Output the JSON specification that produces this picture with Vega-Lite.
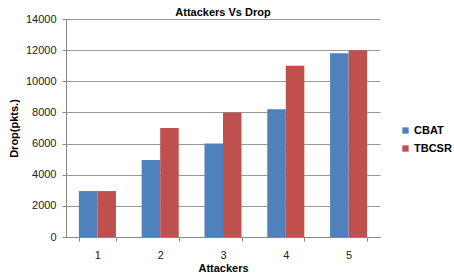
{
  "$schema": "https://vega.github.io/schema/vega-lite/v6.json",
  "autosize": "none",
  "width": 314,
  "height": 218,
  "padding": {"left": 66, "top": 19, "right": 74, "bottom": 41},
  "background": "white",
  "title": {"text": "Attackers Vs Drop", "font": "Liberation Sans", "fontSize": 11, "fontWeight": "bold", "color": "black", "offset": -5},
  "data": {"values": [
    {"attackers": "1", "series": "CBAT", "drop": 2950},
    {"attackers": "1", "series": "TBCSR", "drop": 2950},
    {"attackers": "2", "series": "CBAT", "drop": 4950},
    {"attackers": "2", "series": "TBCSR", "drop": 7000},
    {"attackers": "3", "series": "CBAT", "drop": 6000},
    {"attackers": "3", "series": "TBCSR", "drop": 8000},
    {"attackers": "4", "series": "CBAT", "drop": 8200},
    {"attackers": "4", "series": "TBCSR", "drop": 11000},
    {"attackers": "5", "series": "CBAT", "drop": 11800},
    {"attackers": "5", "series": "TBCSR", "drop": 12000}
  ]},
  "mark": {"type": "bar"},
  "encoding": {
    "x": {"field": "attackers", "type": "nominal", "title": "Attackers",
      "scale": {"paddingInner": 0.41, "paddingOuter": 0.205},
      "axis": {"labelAngle": 0, "tickBand": "extent", "grid": false, "domainColor": "#888", "tickColor": "#888", "tickSize": 4,
        "labelFont": "Liberation Sans", "labelFontSize": 11, "labelColor": "#222", "labelPadding": 8,
        "titleFont": "Liberation Sans", "titleFontSize": 11, "titleFontWeight": "bold", "titleColor": "black", "titlePadding": 2}},
    "xOffset": {"field": "series", "type": "nominal"},
    "y": {"field": "drop", "type": "quantitative", "title": "Drop(pkts.)",
      "scale": {"domain": [0, 14000]},
      "axis": {"values": [0, 2000, 4000, 6000, 8000, 10000, 12000, 14000], "format": "d", "gridColor": "#999", "domainColor": "#888", "tickColor": "#888", "tickSize": 4,
        "labelFont": "Liberation Sans", "labelFontSize": 11, "labelColor": "#222", "labelPadding": 6,
        "titleFont": "Liberation Sans", "titleFontSize": 11, "titleFontWeight": "bold", "titleColor": "black", "titlePadding": 6}},
    "color": {"field": "series", "type": "nominal",
      "scale": {"domain": ["CBAT", "TBCSR"], "range": ["#4F81BD", "#C0504D"]},
      "legend": {"title": null, "orient": "none", "legendX": 334, "legendY": 106, "symbolType": "square", "symbolSize": 40, "symbolStrokeWidth": 0,
        "labelFont": "Liberation Sans", "labelFontSize": 11, "labelFontWeight": "bold", "labelColor": "black", "rowPadding": 6, "labelOffset": 3}}
  },
  "config": {"view": {"stroke": null}}
}
